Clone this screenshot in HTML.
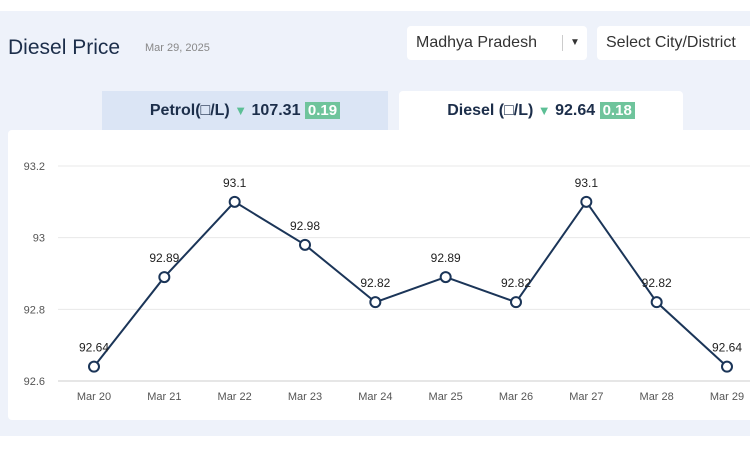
<!DOCTYPE html>
<html><head><meta charset="utf-8"><style>
body{margin:0;width:750px;height:451px;background:#fff;font-family:"Liberation Sans",sans-serif;overflow:hidden;position:relative}
.bg{position:absolute;left:0;top:11px;width:750px;height:425px;background:#eef2fa}
.panel{position:absolute;left:8px;top:130px;width:760px;height:290px;background:#fff;border-radius:4px}
.title{position:absolute;left:8px;top:36px;font-size:21px;color:#1c2e4a}
.date{position:absolute;left:145px;top:42px;font-size:11px;color:#888}
.sel{position:absolute;top:26px;height:34px;background:#fff;border-radius:4px;font-size:16px;color:#333;line-height:34px;padding-left:9px;box-sizing:border-box}
.tab{position:absolute;top:91px;height:40px;font-size:16px;font-weight:bold;color:#1c2e4a;line-height:40px;text-align:center}
.down{color:#5cbf95;font-size:13px}
.badge{background:#6fc49c;color:#fff;padding:0 3px;font-size:15px}
</style></head><body>
<div class="bg"></div>
<div class="title">Diesel Price</div>
<div class="date">Mar 29, 2025</div>
<div class="sel" style="left:407px;width:180px">Madhya Pradesh<span style="position:absolute;left:155px;top:9px;height:16px;border-left:1px solid #ccc"></span><span style="position:absolute;left:163px;font-size:10px">▼</span></div>
<div class="sel" style="left:597px;width:160px">Select City/District</div>
<div class="tab" style="left:102px;width:286px;background:#dbe5f5">Petrol(□/L) <span class="down">▼</span> 107.31 <span class="badge">0.19</span></div>
<div class="tab" style="left:399px;width:284px;background:#fff;border-radius:4px 4px 0 0">Diesel (□/L) <span class="down">▼</span> 92.64 <span class="badge">0.18</span></div>
<div class="panel"></div>
<svg id="chart" width="750" height="451" style="position:absolute;left:0;top:0"></svg>
<script>
const categories=["Mar 20","Mar 21","Mar 22","Mar 23","Mar 24","Mar 25","Mar 26","Mar 27","Mar 28","Mar 29"];
const values=[92.64,92.89,93.1,92.98,92.82,92.89,92.82,93.1,92.82,92.64];
const yTicks=[92.6,92.8,93,93.2];
const yTickLabels=["92.6","92.8","93","93.2"];
const ns="http://www.w3.org/2000/svg",svg=document.getElementById("chart");
const x0=94,x1=727,yMin=92.6,yMax=93.2,py0=381,py1=166;
const xs=i=>x0+(x1-x0)*i/(categories.length-1);
const ys=v=>py0-(v-yMin)/(yMax-yMin)*(py0-py1);
function mk(t,a){const e=document.createElementNS(ns,t);for(const k in a)e.setAttribute(k,a[k]);svg.appendChild(e);return e;}
yTicks.forEach((t,i)=>{
const g=mk("line",{x1:58,x2:750,y1:ys(t),y2:ys(t),stroke:i==0?"#ccc":"#e8e8e8"});


const l=mk("text",{x:45,y:ys(t)+4,"text-anchor":"end","font-size":11,fill:"#555","font-family":"Liberation Sans"});l.textContent=yTickLabels[i];


});
categories.forEach((c,i)=>{
const l=mk("text",{x:xs(i),y:400,"text-anchor":"middle","font-size":11,fill:"#555","font-family":"Liberation Sans"});l.textContent=c;


});
const p=mk("polyline",{points:values.map((v,i)=>xs(i)+","+ys(v)).join(" "),fill:"none",stroke:"#1b3558","stroke-width":2});


values.forEach((v,i)=>{
const c=mk("circle",{cx:xs(i),cy:ys(v),r:5,fill:"#fff",stroke:"#1b3558","stroke-width":2});


const t=mk("text",{x:xs(i),y:ys(v)-15,"text-anchor":"middle","font-size":12,fill:"#222","font-family":"Liberation Sans"});t.textContent=String(v);


});
</script>
</body></html>
